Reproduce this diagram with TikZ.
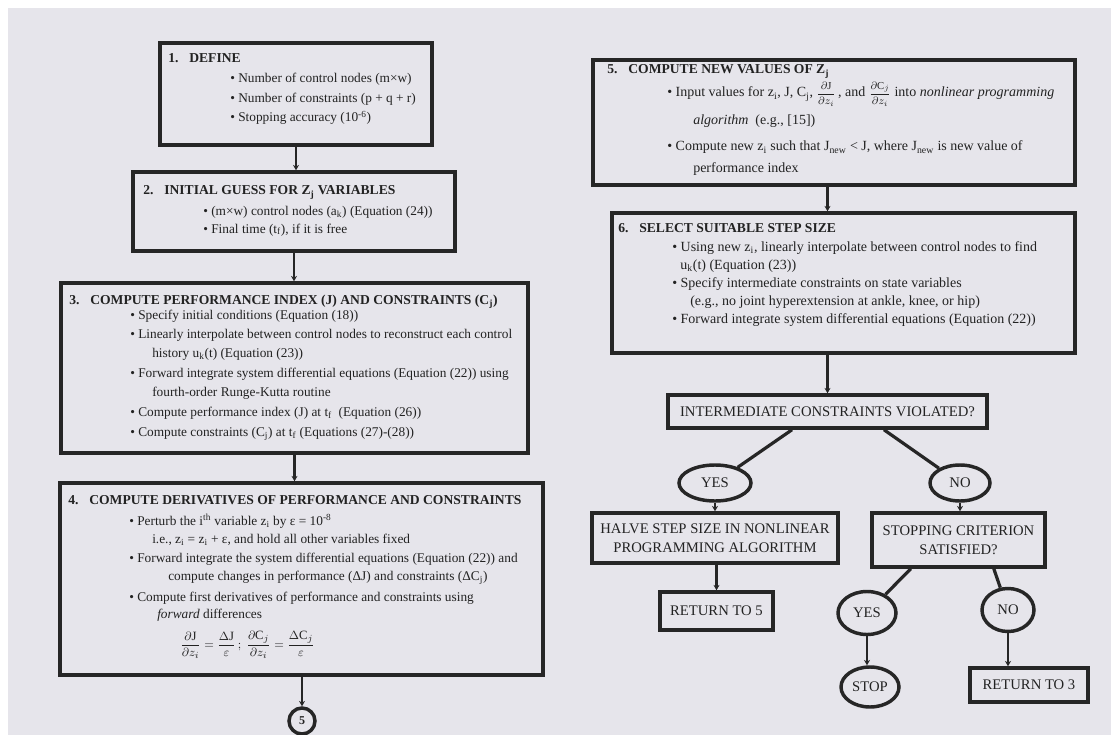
\documentclass[tikz,border=0pt]{standalone}
\usepackage{fontspec}
\setmainfont{Liberation Serif}
\usetikzlibrary{shapes.geometric,fit,arrows.meta,calc}
\definecolor{bg}{HTML}{E6E5EB}
\definecolor{ink}{HTML}{262626}
\definecolor{txt}{HTML}{222222}
\newcommand{\fr}[2]{{\fontsize{8}{8}\selectfont$\displaystyle\frac{#1}{#2}$}}
\tikzset{
  box/.style={draw=ink,line width=2.6pt,inner sep=0pt},
  dbox/.style={draw=ink,line width=2.6pt,inner sep=0pt,align=center,font=\fontsize{11}{14}\selectfont,text=txt},
  oval/.style={ellipse,draw=ink,line width=2.6pt,inner sep=0pt,font=\fontsize{11}{13}\selectfont,text=txt},
  tx/.style={anchor=base west,inner sep=0pt,font=\fontsize{10}{12}\selectfont,text=txt},
  txr/.style={anchor=base west,inner sep=0pt,font=\fontsize{10.5}{12}\selectfont,text=txt},
  hd/.style={anchor=base west,inner sep=0pt,font=\fontsize{10.2}{12}\selectfont\bfseries,text=txt},
  arr/.style={draw=ink,line width=1.7pt,-{Stealth[length=4pt,width=4.5pt]}},
  ln/.style={draw=ink,line width=2.4pt},
}
\begin{document}
\begin{tikzpicture}[x=0.75pt,y=-0.75pt]
\useasboundingbox (0,0) rectangle (1111,735);
\fill[white] (0,0) rectangle (1111,735);
\fill[bg] (8,8) rectangle (1111,735);

% ---------- left column boxes
\node[box,fit={(160,43) (432,145)}] (b1) {};
\node[box,fit={(133,172) (455,251)}] (b2) {};
\node[box,fit={(61,283) (528,453)}] (b3) {};
\node[box,fit={(60,483) (543,675)}] (b4) {};
\node[circle,draw=ink,line width=2.6pt,minimum size=19.5pt,inner sep=0pt,font=\fontsize{9}{10}\selectfont\bfseries,text=txt] (c5) at (302,721) {5};

% box 1 text
\node[hd] (t1) at (168,63) {1.\hspace{0.8em}DEFINE};
\node[tx] (t1a) at (230,83) {• Number of control nodes (m×w)};
\node[tx] (t1b) at (230,103) {• Number of constraints (p + q + r)};
\node[tx] (t1c) at (230,122) {• Stopping accuracy (10\textsuperscript{-6})};

% box 2 text
\node[hd] (t2) at (143,195) {2.\hspace{0.8em}INITIAL GUESS FOR Z\textsubscript{j} VARIABLES};
\node[tx] (t2a) at (203,215) {• (m×w) control nodes (a\textsubscript{k}) (Equation (24))};
\node[tx] (t2b) at (203,233) {• Final time (t\textsubscript{f}), if it is free};

% box 3 text
\node[hd] (t3) at (69,304) {3.\hspace{0.8em}COMPUTE PERFORMANCE INDEX (J) AND CONSTRAINTS (C\textsubscript{j})};
\node[tx] (t3a) at (130,319) {• Specify initial conditions (Equation (18))};
\node[tx] (t3b) at (130,338) {• Linearly interpolate between control nodes to reconstruct each control};
\node[tx] (t3c) at (152,357) {history u\textsubscript{k}(t) (Equation (23))};
\node[tx] (t3d) at (130,377) {• Forward integrate system differential equations (Equation (22)) using};
\node[tx] (t3e) at (152,396) {fourth-order Runge-Kutta routine};
\node[tx] (t3f) at (130,416) {• Compute performance index (J) at t\textsubscript{f}\ \ (Equation (26))};
\node[tx] (t3g) at (130,436) {• Compute constraints (C\textsubscript{j}) at t\textsubscript{f} (Equations (27)-(28))};

% box 4 text
\node[hd] (t4) at (68,504) {4.\hspace{0.8em}COMPUTE DERIVATIVES OF PERFORMANCE AND CONSTRAINTS};
\node[tx] (t4a) at (129,525) {• Perturb the i\textsuperscript{th} variable z\textsubscript{i} by ε = 10\textsuperscript{-8}};
\node[tx] (t4b) at (152,543) {i.e., z\textsubscript{i} = z\textsubscript{i} + ε, and hold all other variables fixed};
\node[tx] (t4c) at (129,562) {• Forward integrate the system differential equations (Equation (22)) and};
\node[tx] (t4d) at (168,580) {compute changes in performance (ΔJ) and constraints (ΔC\textsubscript{j})};
\node[tx] (t4e) at (129,601) {• Compute first derivatives of performance and constraints using};
\node[tx] (t4f) at (157,618) {\textit{forward} differences};
\node[anchor=west,inner sep=0pt,font=\fontsize{9.5}{11}\selectfont,text=txt] (t4g) at (180,645)
  {$\displaystyle\frac{\partial\mathrm{J}}{\partial z_i}=\frac{\Delta\mathrm{J}}{\varepsilon}\,;\ \frac{\partial\mathrm{C}_j}{\partial z_i}=\frac{\Delta\mathrm{C}_j}{\varepsilon}$};

% ---------- right column boxes
\node[box,fit={(593,60) (1075,185)}] (b5) {};
\node[box,fit={(612,213) (1075,353)}] (b6) {};

\node[hd] (t5) at (607,74) {5.\hspace{0.8em}COMPUTE NEW VALUES OF Z\textsubscript{j}};
\node[txr] (t5a) at (667,97) {• Input values for z\textsubscript{i}, J, C\textsubscript{j}, \fr{\partial\mathrm{J}}{\partial z_i}\,, and \fr{\partial\mathrm{C}_j}{\partial z_i} into \textit{nonlinear programming}};
\node[txr] (t5b) at (693,124) {\textit{algorithm}\ \ (e.g., [15])};
\node[txr] (t5c) at (667,151) {• Compute new z\textsubscript{i} such that J\textsubscript{new} < J, where J\textsubscript{new} is new value of};
\node[txr] (t5d) at (693,172) {performance index};

\node[hd] (t6) at (618,232) {6.\hspace{0.8em}SELECT SUITABLE STEP SIZE};
\node[txr] (t6a) at (672,251) {• Using new z\textsubscript{i}, linearly interpolate between control nodes to find};
\node[txr] (t6b) at (680,269) {u\textsubscript{k}(t) (Equation (23))};
\node[txr] (t6c) at (672,287) {• Specify intermediate constraints on state variables};
\node[txr] (t6d) at (690,305) {(e.g., no joint hyperextension at ankle, knee, or hip)};
\node[txr] (t6e) at (672,323) {• Forward integrate system differential equations (Equation (22))};

% ---------- decision part
\node[dbox,minimum width=239.25pt,minimum height=24.75pt] (d1) at (827.5,411.5) {INTERMEDIATE CONSTRAINTS VIOLATED?};
\node[oval,minimum width=54pt,minimum height=27pt] (yes1) at (715,483) {YES};
\node[oval,minimum width=45pt,minimum height=27pt] (no1) at (960,483) {NO};
\node[dbox,minimum width=184.5pt,minimum height=37.5pt] (halve) at (715,538) {HALVE STEP SIZE IN NONLINEAR\\PROGRAMMING ALGORITHM};
\node[dbox,minimum width=129.75pt,minimum height=40.5pt] (stopc) at (958.5,540) {STOPPING CRITERION\\SATISFIED?};
\node[dbox,minimum width=84.75pt,minimum height=28.5pt] (ret5) at (716.5,611) {RETURN TO 5};
\node[oval,minimum width=43.5pt,minimum height=32.25pt] (yes2) at (867,613) {YES};
\node[oval,minimum width=39pt,minimum height=32.25pt] (no2) at (1008,610) {NO};
\node[oval,minimum width=43.5pt,minimum height=30pt] (stop) at (870,687) {STOP};
\node[dbox,minimum width=88.5pt,minimum height=25.5pt] (ret3) at (1029,685) {RETURN TO 3};

% ---------- connectors
\draw[arr] (b1.south) -- (b1.south |- b2.north);
\draw[arr] (b2.south) -- (b2.south |- b3.north);
\draw[arr] (b3.south) -- (b3.south |- b4.north);
\draw[arr] (b4.south -| c5.north) -- (c5.north);
\draw[arr] (b5.south -| d1.north) -- (b6.north -| d1.north);
\draw[arr] (b6.south -| d1.north) -- (d1.north);
\draw[ln] ($(d1.south west)!0.39!(d1.south east)$) -- (yes1);
\draw[ln] ($(d1.south west)!0.675!(d1.south east)$) -- (no1);
\draw[arr] (yes1.south) -- (yes1.south |- halve.north);
\draw[arr] (no1.south) -- (no1.south |- stopc.north);
\draw[arr] (halve.south -| ret5.north) -- (ret5.north);
\draw[ln] ($(stopc.south west)!0.23!(stopc.south east)$) -- (yes2);
\draw[ln] ($(stopc.south west)!0.70!(stopc.south east)$) -- (no2);
\draw[arr] (yes2.south) -- (yes2.south |- stop.north);
\draw[arr] (no2.south) -- (no2.south |- ret3.north);
\end{tikzpicture}
\end{document}
